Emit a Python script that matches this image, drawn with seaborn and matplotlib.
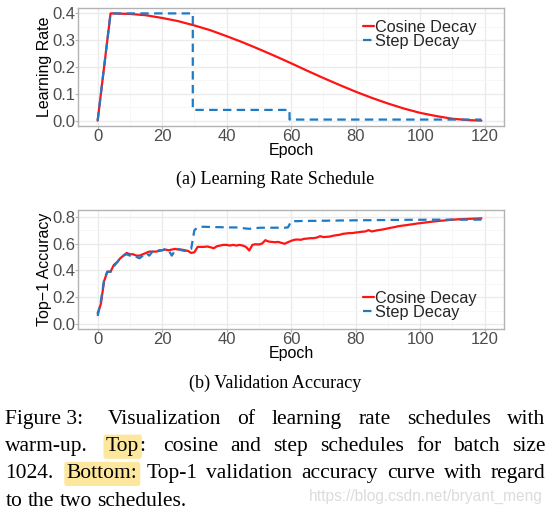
import matplotlib
matplotlib.use('Agg')
import matplotlib.pyplot as plt
import seaborn as sns
from matplotlib.ticker import MultipleLocator, FormatStrFormatter

W, H = 553, 514

# (a) learning rate schedule
lr_epochs = [0, 4, 10, 15, 20, 25, 30, 35, 40, 45, 50, 55, 60, 65, 70,
             75, 80, 85, 90, 95, 100, 105, 110, 115, 119]
cosine_lr = [0.0, 0.400, 0.398, 0.393, 0.383, 0.371, 0.355, 0.337, 0.315,
             0.292, 0.267, 0.241, 0.214, 0.186, 0.159, 0.133, 0.108, 0.085,
             0.064, 0.045, 0.029, 0.017, 0.007, 0.002, 0.0]
step_epochs = [0, 4, 29.5, 29.5, 59.5, 59.5, 119]
step_lr = [0.0, 0.4, 0.4, 0.04, 0.04, 0.004, 0.004]

# (b) validation accuracy per epoch
acc_epochs = list(range(120))
cosine_acc = [
    0.08, 0.15, 0.32, 0.39, 0.39, 0.44, 0.46, 0.49, 0.51, 0.53,
    0.52, 0.52, 0.51, 0.51, 0.52, 0.53, 0.54, 0.54, 0.54, 0.545,
    0.55, 0.555, 0.55, 0.555, 0.56, 0.555, 0.555, 0.55, 0.545, 0.53,
    0.535, 0.575, 0.575, 0.575, 0.578, 0.572, 0.565, 0.58, 0.585, 0.59,
    0.59, 0.585, 0.59, 0.585, 0.59, 0.585, 0.575, 0.548, 0.59, 0.595,
    0.593, 0.60, 0.625, 0.615, 0.612, 0.61, 0.612, 0.605, 0.598, 0.61,
    0.62, 0.628, 0.63, 0.628, 0.635, 0.637, 0.64, 0.64, 0.645, 0.655,
    0.648, 0.65, 0.652, 0.658, 0.662, 0.665, 0.672, 0.675, 0.678, 0.678,
    0.682, 0.685, 0.688, 0.69, 0.70, 0.69, 0.695, 0.70, 0.703, 0.708,
    0.713, 0.718, 0.722, 0.728, 0.732, 0.735, 0.738, 0.742, 0.745, 0.749,
    0.752, 0.755, 0.758, 0.761, 0.764, 0.766, 0.769, 0.771, 0.773, 0.776,
    0.778, 0.779, 0.781, 0.782, 0.783, 0.784, 0.785, 0.786, 0.787, 0.788,
]
step_acc = [
    0.06, 0.17, 0.33, 0.39, 0.39, 0.43, 0.46, 0.49, 0.51, 0.52,
    0.51, 0.51, 0.50, 0.49, 0.51, 0.53, 0.51, 0.54, 0.53, 0.55,
    0.55, 0.56, 0.55, 0.51, 0.55, 0.56, 0.55, 0.545, 0.55, 0.56,
    0.70, 0.72, 0.725, 0.725, 0.724, 0.724, 0.723, 0.722, 0.722, 0.721,
    0.72, 0.72, 0.72, 0.72, 0.718, 0.715, 0.712, 0.71, 0.712, 0.715,
    0.717, 0.718, 0.718, 0.718, 0.718, 0.718, 0.718, 0.718, 0.718, 0.72,
    0.765, 0.767, 0.767, 0.768, 0.768, 0.768, 0.769, 0.769, 0.769, 0.77,
    0.77, 0.77, 0.771, 0.771, 0.771, 0.772, 0.772, 0.772, 0.772, 0.773,
    0.773, 0.773, 0.773, 0.774, 0.774, 0.774, 0.774, 0.775, 0.775, 0.775,
    0.775, 0.776, 0.776, 0.776, 0.776, 0.776, 0.777, 0.777, 0.777, 0.777,
    0.777, 0.777, 0.778, 0.778, 0.778, 0.778, 0.778, 0.778, 0.778, 0.778,
    0.778, 0.778, 0.778, 0.778, 0.778, 0.778, 0.778, 0.778, 0.778, 0.778,
]

series_names = ['Cosine Decay', 'Step Decay']
RED = '#ff1414'
BLUE = '#1f7ac4'

para_lines = [
    ['Figure 3:', 'Visualization', 'of', 'learning', 'rate', 'schedules', 'with'],
    ['warm-up.', '[Top]:', 'cosine', 'and', 'step', 'schedules', 'for', 'batch', 'size'],
    ['1024.', '[Bottom:]', 'Top-1', 'validation', 'accuracy', 'curve', 'with', 'regard'],
    ['to', 'the', 'two', 'schedules.'],
]

sns.set_theme(style='whitegrid')
plt.rcParams['font.family'] = ['Liberation Sans', 'DejaVu Sans']

fig = plt.figure(figsize=(W / 100, H / 100), dpi=100)
fig.patch.set_facecolor('white')


def box(x0, y0, x1, y1):
    return [x0 / W, 1 - y1 / H, (x1 - x0) / W, (y1 - y0) / H]


ax1 = fig.add_axes(box(78.3, 7.5, 504, 126))
ax2 = fig.add_axes(box(78.3, 210, 504, 329))


def style(ax, ymaj, ymin, ylim, ylabel, leg_y):
    ax.set_facecolor('white')
    ax.set_xlim(-6, 126)
    ax.set_ylim(*ylim)
    ax.xaxis.set_major_locator(MultipleLocator(20))
    ax.xaxis.set_minor_locator(MultipleLocator(10))
    ax.yaxis.set_major_locator(MultipleLocator(ymaj))
    ax.yaxis.set_minor_locator(MultipleLocator(ymin))
    ax.yaxis.set_major_formatter(FormatStrFormatter('%.1f'))
    ax.grid(which='major', color='#ebebeb', lw=1.0)
    ax.grid(which='minor', color='#f6f6f6', lw=0.6)
    ax.set_axisbelow(True)
    for s in ax.spines.values():
        s.set_color('#b3b3b3')
        s.set_linewidth(1.0)
    ax.tick_params(which='major', length=2, width=0.8, color='#b3b3b3',
                   labelsize=12, labelcolor='#4d4d4d', pad=0,
                   bottom=True, left=True)
    ax.tick_params(which='minor', length=0)
    ax.set_xlabel('Epoch', fontsize=11.5, color='black')
    ax.set_ylabel(ylabel, fontsize=11.5, color='black')
    ax.xaxis.set_label_coords(0.5, -0.14)
    ax.yaxis.set_label_coords(-0.0625, 0.5)
    ax.legend(loc='upper left', bbox_to_anchor=(0.669, leg_y), frameon=False,
              fontsize=11.7, handlelength=0.65, handletextpad=0.1,
              labelspacing=-0.06, borderpad=0, borderaxespad=0)


sns.lineplot(x=lr_epochs, y=cosine_lr, ax=ax1, color=RED, lw=1.6,
             label=series_names[0], estimator=None, sort=False)
sns.lineplot(x=step_epochs, y=step_lr, ax=ax1, color=BLUE, lw=1.6,
             linestyle=(0, (3.8, 2.4)), label=series_names[1],
             estimator=None, sort=False)
style(ax1, 0.1, 0.05, (-0.02, 0.422), 'Learning Rate', 0.898)

sns.lineplot(x=acc_epochs, y=cosine_acc, ax=ax2, color=RED, lw=1.6,
             label=series_names[0], estimator=None, sort=False)
sns.lineplot(x=acc_epochs, y=step_acc, ax=ax2, color=BLUE, lw=1.6,
             linestyle=(0, (3.8, 2.4)), label=series_names[1],
             estimator=None, sort=False)
style(ax2, 0.2, 0.1, (-0.037, 0.85), 'Top\u22121 Accuracy', 0.318)

serif = 'Liberation Serif'
fig.text(274.8 / W, 1 - 184.3 / H, '(a) Learning Rate Schedule', ha='center',
         va='baseline', family=serif, fontsize=13.1, color='black')
fig.text(275.6 / W, 1 - 388.3 / H, '(b) Validation Accuracy', ha='center',
         va='baseline', family=serif, fontsize=13.1, color='black')

# justified caption paragraph (wider gaps after sentence punctuation)
renderer = fig.canvas.get_renderer()
PSIZE = 15.5
HL = '#fde79c'
left, right = 5.3, 545.5
baselines = [424, 451.2, 478.4, 505.6]


def segments(word):
    out = []
    while word:
        if word.startswith('['):
            end = word.index(']')
            out.append((word[1:end], True))
            word = word[end + 1:]
        else:
            nxt = word.find('[')
            nxt = len(word) if nxt < 0 else nxt
            out.append((word[:nxt], False))
            word = word[nxt:]
    return out


def width(s):
    t = fig.text(0, 0, s, family=serif, fontsize=PSIZE)
    w = t.get_window_extent(renderer).width
    t.remove()
    return w


space = 0.25 * PSIZE * 100 / 72
for i, (words, yb) in enumerate(zip(para_lines, baselines)):
    segs = [segments(w) for w in words]
    widths = [[width(s) for s, _ in sg] for sg in segs]
    total = sum(sum(ws) for ws in widths)
    weights = [1.5 if w[-1] in '.:' else 1.0 for w in words[:-1]]
    if i < len(para_lines) - 1:
        unit = (right - left - total) / sum(weights)
    else:
        unit = space
    x = left
    for j, (sg, ws) in enumerate(zip(segs, widths)):
        for (s, hl), w in zip(sg, ws):
            kw = {}
            if hl:
                kw['bbox'] = dict(boxstyle='round,pad=0.12', fc=HL, ec='none')
            fig.text(x / W, 1 - yb / H, s, family=serif, fontsize=PSIZE,
                     ha='left', va='baseline', color='black', **kw)
            x += w
        if j < len(weights):
            x += unit * (weights[j] if i < len(para_lines) - 1 else 1.0)

fig.text(543 / W, 1 - 496 / H, 'https://blog.csdn.net/bryant_meng', ha='right',
         va='center', color='#dcdcdc', fontsize=11.2, family='Liberation Sans')

fig.savefig('out.png', dpi=100)
